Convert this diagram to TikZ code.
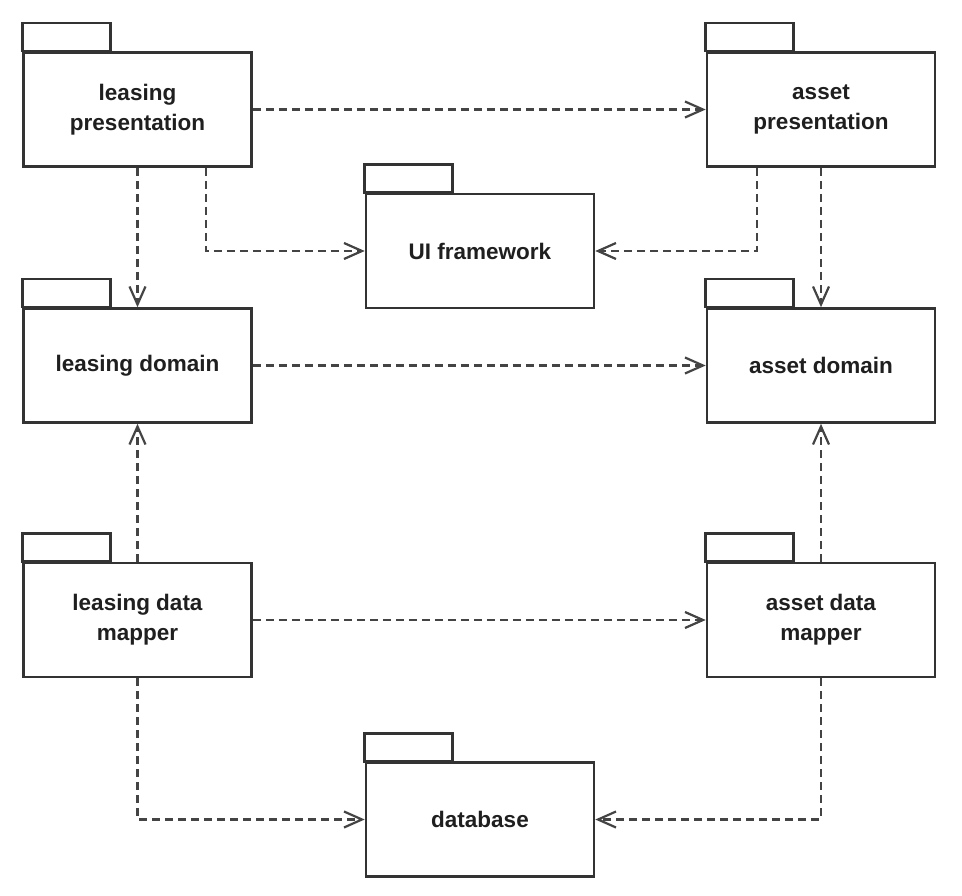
\documentclass[tikz,border=0pt]{standalone}
\usepackage{fontspec}
\setmainfont{Liberation Sans}
\usetikzlibrary{arrows.meta}
\definecolor{boxline}{HTML}{333333}
\definecolor{depline}{HTML}{444444}
\begin{document}
\begin{tikzpicture}[x=1pt,y=-1pt,
  pkg/.style={draw=boxline,line width=2.6pt,rectangle,minimum width=228pt,minimum height=114pt,
    align=center,inner sep=0pt,font=\fontsize{22.5}{30}\selectfont\bfseries,text=black!88},
  pkgtab/.style={draw=boxline,line width=2.6pt},
  dep/.style={draw=depline,line width=2.4pt,dash pattern=on 8pt off 5pt,
    -{Straight Barb[length=18pt,width=16pt,line width=2.2pt]}}
]
\useasboundingbox (0,0) rectangle (962,896);
\node[pkg] (lp) at (137.5,109.5) {leasing\\presentation};
\node[pkg] (ap) at (821,109.5) {asset\\presentation};
\node[pkg] (ui) at (480,251) {UI framework};
\node[pkg] (ld) at (137.5,365.5) {leasing domain};
\node[pkg] (ad) at (821,365.5) {asset domain};
\node[pkg] (lm) at (137.5,620) {leasing data\\mapper};
\node[pkg] (am) at (821,620) {asset data\\mapper};
\node[pkg] (db) at (480,819.5) {database};
\foreach \n in {lp,ap,ui,ld,ad,lm,am,db}{
  \draw[pkgtab] (\n.north west) rectangle ++(88,-28);
}
\draw[dep] (lp.east) -- (ap.west);
\draw[dep] (lp.south) -- (ld.north);
\draw[dep] ([xshift=68.5pt]lp.south) |- (ui.west);
\draw[dep] ([xshift=-64pt]ap.south) |- (ui.east);
\draw[dep] (ap.south) -- (ad.north);
\draw[dep] (ld.east) -- (ad.west);
\draw[dep] (lm.north) -- (ld.south);
\draw[dep] (am.north) -- (ad.south);
\draw[dep] (lm.east) -- (am.west);
\draw[dep] (lm.south) |- (db.west);
\draw[dep] (am.south) |- (db.east);
\end{tikzpicture}
\end{document}
